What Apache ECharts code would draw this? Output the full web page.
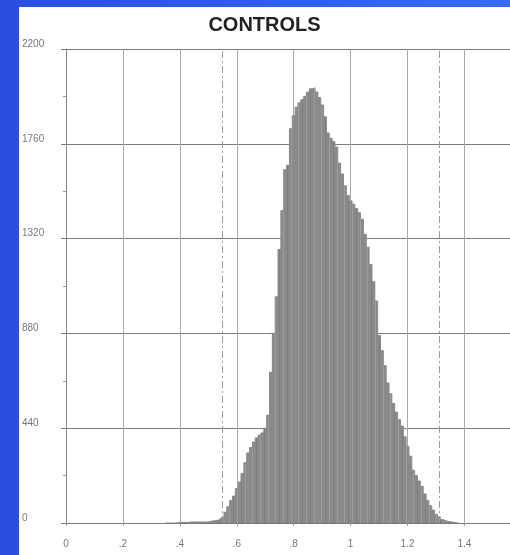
<!DOCTYPE html>
<html>
<head>
<meta charset="utf-8">
<script src="https://cdn.jsdelivr.net/npm/echarts@6/dist/echarts.min.js"></script>
<style>
  html, body { margin: 0; padding: 0; width: 510px; height: 555px; overflow: hidden;
    background: linear-gradient(90deg, #2a4de0 0%, #3160f0 60%, #3a6af5 100%); }
  #chart { position: absolute; left: 19px; top: 7px; width: 491px; height: 548px; background: #ffffff; }
</style>
</head>
<body>
<div id="chart"></div>
<script>
// ---- data ----
const titleText = 'CONTROLS';
const binStart = 0.35;   // centre of first bin
const binWidth = 0.01;
const counts = [
  0, 0, 0, 0, 0,
  3, 3, 3, 3, 5, 5, 5, 5, 5, 5, 5,
  8, 10, 12, 15,
  25, 50, 75, 105, 125, 160, 190, 230, 280, 325,
  350, 376, 395, 408, 418, 440, 500, 700, 880, 1050,
  1270, 1450, 1640, 1660, 1830, 1890, 1930, 1950, 1965, 1980,
  2000, 2015, 2020, 2000, 1975, 1940, 1885, 1810, 1785, 1770,
  1745, 1670, 1620, 1565, 1520, 1495, 1480, 1460, 1440, 1410,
  1340, 1280, 1200, 1120, 1030, 870, 800, 730, 650, 600,
  555, 515, 480, 450, 400, 355, 310, 245, 220, 195,
  170, 135, 105, 80, 60, 40, 28, 16, 10, 7,
  5, 3, 0, 0
];
const cutoffs = [0.545, 1.315];
const xTickValues = [0, 0.2, 0.4, 0.6, 0.8, 1.0, 1.2, 1.4];
const xTickLabels = ['0', '.2', '.4', '.6', '.8', '1', '1.2', '1.4'];
const yTickLabels = ['0', '440', '880', '1320', '1760', '2200'];

// ---- build ----
const seriesData = counts.map((c, i) => [+(binStart + i * binWidth).toFixed(3), c]);

// streaky grey fill pattern
const pat = document.createElement('canvas');
pat.width = 23; pat.height = 4;
const g = pat.getContext('2d');
g.fillStyle = '#8a8a8a'; g.fillRect(0, 0, 23, 4);
g.fillStyle = '#9c9c9c'; g.fillRect(3, 0, 1, 4); g.fillRect(11, 0, 1, 4); g.fillRect(19, 0, 1, 4);
g.fillStyle = '#7e7e7e'; g.fillRect(7, 0, 1, 4); g.fillRect(15, 0, 1, 4);

const chart = echarts.init(document.getElementById('chart'), null, { renderer: 'canvas' });
chart.setOption({
  backgroundColor: '#ffffff',
  animation: false,
  title: {
    text: titleText, left: 'center', top: 3,
    textStyle: { fontFamily: 'Liberation Sans, Arial, sans-serif', fontSize: 20, fontWeight: 'bold', color: '#222' }
  },
  grid: { left: 46, right: 0, top: 42, bottom: 32 },
  xAxis: {
    type: 'value', min: 0, max: 1.56, interval: 0.2,
    axisLine: { show: true, lineStyle: { color: '#777', width: 1 } },
    axisTick: { show: true, length: 3, lineStyle: { color: '#999' } },
    splitLine: { show: true, lineStyle: { color: '#a8a8a8', width: 1 } },
    axisLabel: {
      margin: 16, color: '#777', fontSize: 10, fontFamily: 'Liberation Sans, Arial, sans-serif',
      showMaxLabel: false,
      formatter: function (v) {
        for (let i = 0; i < xTickValues.length; i++) {
          if (Math.abs(v - xTickValues[i]) < 1e-6) return xTickLabels[i];
        }
        return '';
      }
    }
  },
  yAxis: {
    type: 'value', min: 0, max: 2200, interval: 440,
    axisLine: { show: true, lineStyle: { color: '#888', width: 1 } },
    axisTick: { show: true, length: 5, lineStyle: { color: '#777' } },
    minorTick: { show: true, splitNumber: 2, length: 3, lineStyle: { color: '#999' } },
    splitLine: { show: true, lineStyle: { color: '#7a7a7a', width: 1 } },
    axisLabel: {
      margin: 44, align: 'left', verticalAlign: 'bottom', color: '#777', fontSize: 10,
      fontFamily: 'Liberation Sans, Arial, sans-serif',
      formatter: function (v) { return yTickLabels[Math.round(v / 440)] || ''; }
    }
  },
  series: [{
    type: 'line',
    step: 'middle',
    symbol: 'none',
    data: seriesData,
    lineStyle: { color: '#8a8a8a', width: 1 },
    areaStyle: { color: { image: pat, repeat: 'repeat' }, opacity: 1 },
    markLine: {
      silent: true, symbol: 'none', label: { show: false },
      lineStyle: { type: [7, 3, 2, 3], color: '#9a9a9a', width: 1 },
      data: cutoffs.map(v => ({ xAxis: v }))
    },
    z: 3
  }]
});
</script>
</body>
</html>
